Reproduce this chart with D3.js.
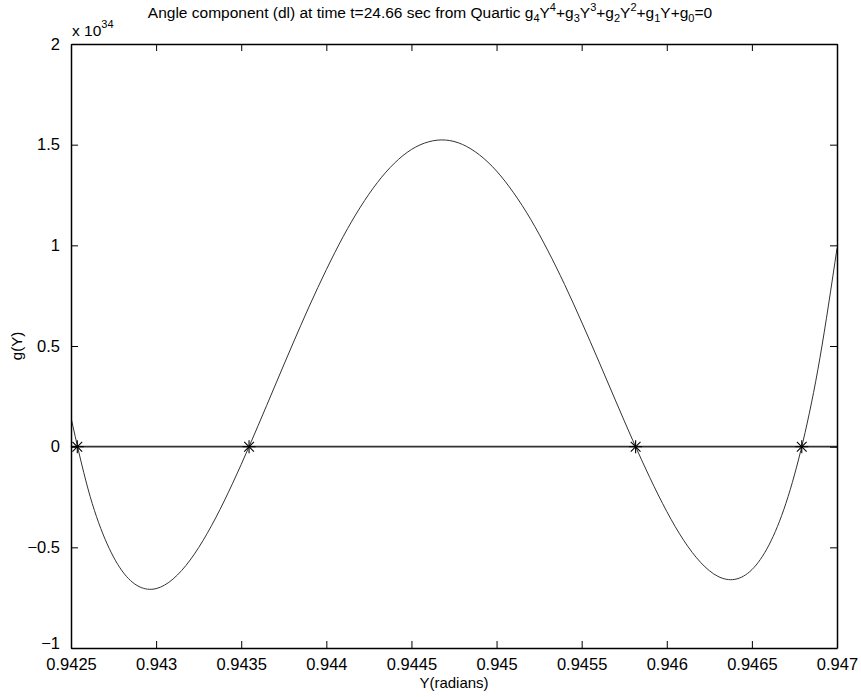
<!DOCTYPE html>
<html>
<head>
<meta charset="utf-8">
<script src="https://cdn.jsdelivr.net/npm/d3@7"></script>
<style>
  body { margin: 0; background: #fff; }
  text { font-family: "Liberation Sans", Arial, sans-serif; fill: #000; }
</style>
</head>
<body>
<div id="chart"></div>
<script>
// sampled curve g(Y), in units of 1e34
var yRad = [0.9425, 0.9426, 0.9427, 0.9428, 0.9429, 0.9430, 0.9431, 0.9432, 0.9433, 0.9434,
            0.9435, 0.9436, 0.9437, 0.9438, 0.9439, 0.9440, 0.9441, 0.9442, 0.9443, 0.9444,
            0.9445, 0.9446, 0.9447, 0.9448, 0.9449, 0.9450, 0.9451, 0.9452, 0.9453, 0.9454,
            0.9455, 0.9456, 0.9457, 0.9458, 0.9459, 0.9460, 0.9461, 0.9462, 0.9463, 0.9464,
            0.9465, 0.9466, 0.9467, 0.9468, 0.9469, 0.9470];
var gVal = [0.144, -0.210, -0.459, -0.617, -0.695, -0.705, -0.657, -0.563, -0.431, -0.270,
            -0.088, 0.106, 0.306, 0.505, 0.698, 0.879, 1.045, 1.190, 1.312, 1.408,
            1.476, 1.514, 1.523, 1.501, 1.449, 1.369, 1.261, 1.130, 0.976, 0.805,
            0.619, 0.425, 0.227, 0.032, -0.153, -0.322, -0.466, -0.576, -0.644, -0.659,
            -0.611, -0.489, -0.281, 0.025, 0.442, 0.985];

// roots found (marked with *)
var roots = [0.942537, 0.943546, 0.945817, 0.946793];

var xTicks = [0.9425, 0.943, 0.9435, 0.944, 0.9445, 0.945, 0.9455, 0.946, 0.9465, 0.947];
var xTickLabels = ["0.9425", "0.943", "0.9435", "0.944", "0.9445", "0.945", "0.9455", "0.946", "0.9465", "0.947"];
var yTicks = [-1, -0.5, 0, 0.5, 1, 1.5, 2];
var yTickLabels = ["\u22121", "\u22120.5", "0", "0.5", "1", "1.5", "2"];

quarticPlot = function(_parentElement){
    this.parentElement = _parentElement;
    this.initVis();
}

quarticPlot.prototype.initVis = function(){

    var vis = this;

    vis.margin = {top: 44, right: 24, bottom: 49, left: 71},
      vis.width = 861 - vis.margin.left - vis.margin.right,
      vis.height = 697 - vis.margin.top - vis.margin.bottom;

    vis.svg = d3.select("#" + vis.parentElement).append("svg")
        .attr("width", 861)
        .attr("height", 697)
        .append("g")
        .attr("transform", "translate(" + vis.margin.left + "," + vis.margin.top + ")");

    vis.x = d3.scaleLinear().domain([0.9425, 0.947]).range([0, vis.width]);
    vis.y = d3.scaleLinear().domain([-1, 2]).range([vis.height, 0]);

    var tickLen = 7;

    // clip so the curve stays inside the box
    vis.svg.append("clipPath").attr("id", "clip")
        .append("rect").attr("width", vis.width).attr("height", vis.height);

    // zero line
    vis.svg.append("line")
        .attr("x1", vis.x(0.9425)).attr("x2", vis.x(0.947))
        .attr("y1", vis.y(0)).attr("y2", vis.y(0))
        .attr("stroke", "#333").attr("stroke-width", 1.6);

    // the quartic
    var line = d3.line()
        .x(function(d, i){ return vis.x(yRad[i]); })
        .y(function(d){ return vis.y(d); })
        .curve(d3.curveNatural);

    vis.svg.append("path")
        .datum(gVal)
        .attr("clip-path", "url(#clip)")
        .attr("d", line)
        .attr("fill", "none")
        .attr("stroke", "#333")
        .attr("stroke-width", 1);

    // asterisk markers at roots
    var s = 6.5;
    var star = vis.svg.append("g").selectAll("g")
        .data(roots)
        .enter().append("g")
        .attr("transform", function(d){ return "translate(" + vis.x(d) + "," + vis.y(0) + ")"; })
        .attr("stroke", "#000").attr("stroke-width", 1.1);
    star.append("line").attr("x1", -s).attr("x2", s).attr("y1", 0).attr("y2", 0);
    star.append("line").attr("x1", 0).attr("x2", 0).attr("y1", -s).attr("y2", s);
    star.append("line").attr("x1", -s*0.75).attr("x2", s*0.75).attr("y1", -s*0.75).attr("y2", s*0.75);
    star.append("line").attr("x1", -s*0.75).attr("x2", s*0.75).attr("y1", s*0.75).attr("y2", -s*0.75);

    // axes (ticks pointing inward, matlab style)
    var fmtX = function(d, i){ return xTickLabels[i]; };
    var fmtY = function(d, i){ return yTickLabels[i]; };

    var bottom = vis.svg.append("g")
        .attr("transform", "translate(0," + vis.height + ")")
        .call(d3.axisBottom(vis.x).tickValues(xTicks).tickFormat(fmtX).tickSizeInner(-tickLen).tickSizeOuter(0).tickPadding(10));
    var top = vis.svg.append("g")
        .call(d3.axisTop(vis.x).tickValues(xTicks).tickFormat("").tickSizeInner(-tickLen).tickSizeOuter(0));
    var left = vis.svg.append("g")
        .call(d3.axisLeft(vis.y).tickValues(yTicks).tickFormat(fmtY).tickSizeInner(-tickLen).tickSizeOuter(0).tickPadding(11));
    var right = vis.svg.append("g")
        .attr("transform", "translate(" + vis.width + ",0)")
        .call(d3.axisRight(vis.y).tickValues(yTicks).tickFormat("").tickSizeInner(-tickLen).tickSizeOuter(0));

    [bottom, top, left, right].forEach(function(a){
        a.selectAll("path").attr("stroke", "#000").attr("stroke-width", 1.5);
        a.selectAll("line").attr("stroke", "#000").attr("stroke-width", 1);
        a.selectAll("text").style("font-size", "16.5px").attr("fill", "#000")
            .style("font-family", "'Liberation Sans', Arial, sans-serif");
    });

    // lowest y label sits a little higher, clear of the x labels
    left.selectAll(".tick text").filter(function(d){ return d === -1; }).attr("dy", "0.05em");

    // axis labels
    vis.svg.append("text")
        .attr("x", vis.width / 2).attr("y", vis.height + 40)
        .attr("text-anchor", "middle").style("font-size", "15px")
        .text("Y(radians)");

    vis.svg.append("text")
        .attr("transform", "translate(" + (-49) + "," + (vis.height / 2) + ") rotate(-90)")
        .attr("text-anchor", "middle").style("font-size", "15px")
        .text("g(Y)");

    // exponent label
    var ex = vis.svg.append("text")
        .attr("x", 1).attr("y", -8).style("font-size", "15.5px");
    ex.append("tspan").text("x 10");
    ex.append("tspan").attr("dy", -8).style("font-size", "11px").text("34");

    // title with sub/superscripts
    var t = vis.svg.append("text")
        .attr("x", vis.width / 2 - 24).attr("y", -26)
        .attr("text-anchor", "middle").style("font-size", "15.5px");
    t.append("tspan").text("Angle component (dl) at time t=24.66 sec from Quartic g");
    var parts = [["4", "4"], ["3", "3"], ["2", "2"]];
    parts.forEach(function(p){
        t.append("tspan").attr("dy", 4).style("font-size", "11px").text(p[0]);
        t.append("tspan").attr("dy", -4).text("Y");
        t.append("tspan").attr("dy", -7).style("font-size", "11px").text(p[1]);
        t.append("tspan").attr("dy", 7).text("+g");
    });
    t.append("tspan").attr("dy", 4).style("font-size", "11px").text("1");
    t.append("tspan").attr("dy", -4).text("Y+g");
    t.append("tspan").attr("dy", 4).style("font-size", "11px").text("0");
    t.append("tspan").attr("dy", -4).text("=0");
}

new quarticPlot("chart");
</script>
</body>
</html>
